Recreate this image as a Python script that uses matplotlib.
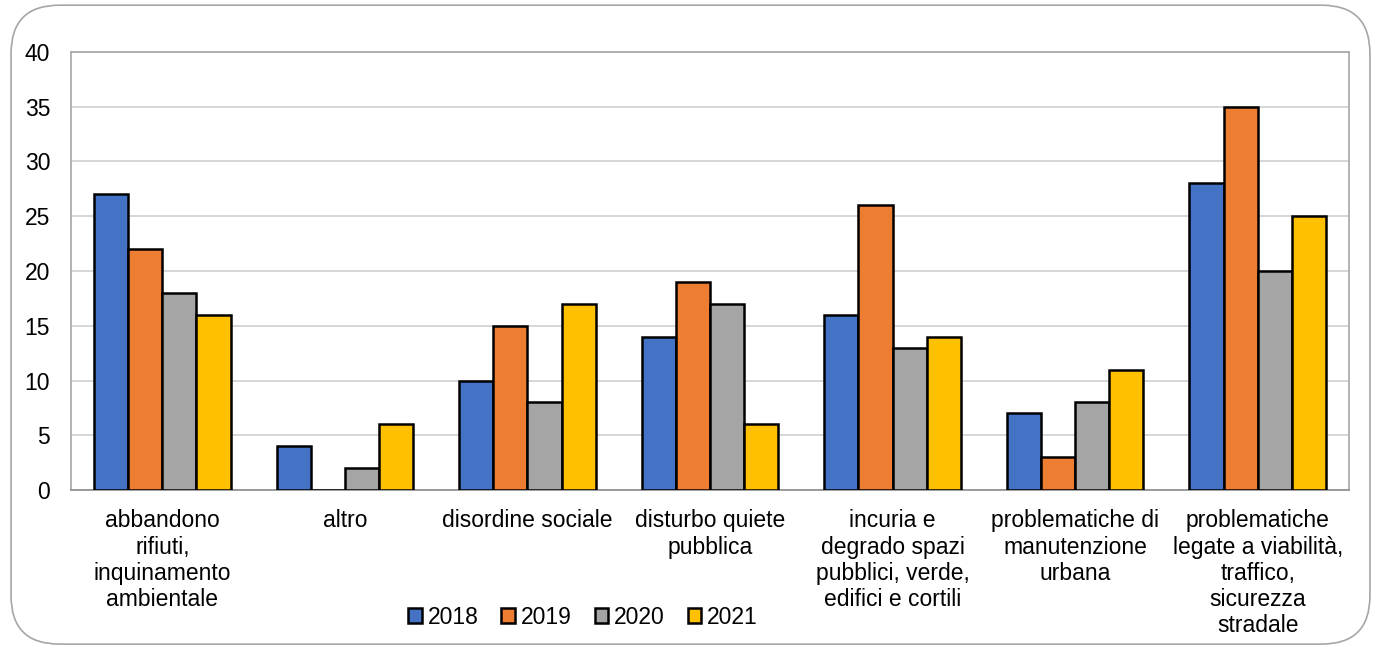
import numpy as np
import matplotlib.pyplot as plt
from matplotlib.patches import FancyBboxPatch

plt.rcParams['font.family'] = ['Liberation Sans', 'DejaVu Sans']

categorie = [
    "abbandono\nrifiuti,\ninquinamento\nambientale",
    "altro",
    "disordine sociale",
    "disturbo quiete\npubblica",
    "incuria e\ndegrado spazi\npubblici, verde,\nedifici e cortili",
    "problematiche di\nmanutenzione\nurbana",
    "problematiche\nlegate a viabilità,\ntraffico,\nsicurezza\nstradale",
]
anni = ["2018", "2019", "2020", "2021"]
v2018 = [27, 4, 10, 14, 16, 7, 28]
v2019 = [22, 0, 15, 19, 26, 3, 35]
v2020 = [18, 2, 8, 17, 13, 8, 20]
v2021 = [16, 6, 17, 6, 14, 11, 25]
colori = ["#4472C4", "#ED7D31", "#A5A5A5", "#FFC000"]
fs = 16.5

fig = plt.figure(figsize=(13.81, 6.48), dpi=100)
ax = fig.add_axes([71 / 1381, 1 - 490 / 648, 1278 / 1381, 438 / 648])

# cornice arrotondata esterna
fig.patches.append(FancyBboxPatch((0.008, 0.006), 0.984, 0.986, boxstyle="round,pad=0,rounding_size=0.035",
                                  transform=fig.transFigure, fill=False, edgecolor="#A6A6A6", linewidth=1.2,
                                  mutation_aspect=1381 / 648))

x = np.arange(len(categorie))
w = 0.187
serie = [v2018, v2019, v2020, v2021]
for i, (vals, col, lab) in enumerate(zip(serie, colori, anni)):
    ax.bar(x + (i - 1.5) * w, vals, w, color=col, edgecolor="black", linewidth=1.8, label=lab, zorder=3)

ax.set_xlim(-0.5, len(categorie) - 0.5)
ax.set_ylim(0, 40)
ax.set_yticks(range(0, 41, 5))
ax.yaxis.grid(True, color="#D0D0D0", linewidth=1.2, zorder=0)
ax.set_xticks(x)
ax.set_xticklabels(categorie, fontsize=fs, linespacing=1.18, va="top")
ax.tick_params(axis="y", labelsize=fs, length=0, pad=15)
ax.tick_params(axis="x", length=0, pad=14)
for s in ["left", "top", "right"]:
    ax.spines[s].set_color("#A6A6A6")
    ax.spines[s].set_linewidth(1.2)
ax.spines["bottom"].set_color("#8C8C8C")
ax.spines["bottom"].set_linewidth(1.2)

ax.legend(loc="center", bbox_to_anchor=(583 / 1381, 1 - 617 / 648), bbox_transform=fig.transFigure,
          ncol=4, frameon=False, fontsize=fs, handlelength=0.6, handleheight=0.6, handletextpad=0.25,
          columnspacing=1.0)

fig.savefig("out.png", dpi=100)
